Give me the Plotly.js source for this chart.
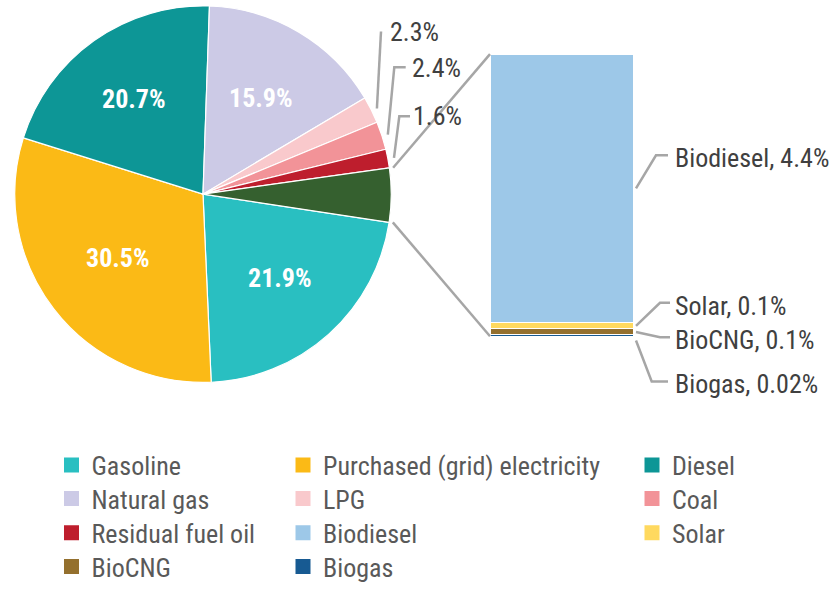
<!DOCTYPE html>
<html><head><meta charset="utf-8">
<script src="https://cdn.plot.ly/plotly-3.0.1.min.js"></script>
<style>html,body{margin:0;padding:0;background:#fff}</style>
</head><body><div id="chart" style="width:831px;height:590px"></div>
<script>
// ---- data ----
// Pie categories, clockwise starting at Gasoline
const pieLabels = ['Gasoline', 'Purchased (grid) electricity', 'Diesel', 'Natural gas', 'LPG', 'Coal', 'Residual fuel oil'];
const pieValues = [21.9, 30.5, 20.7, 15.9, 2.3, 2.4, 1.6];
const pieColors = ['#29BFC1', '#FBBA16', '#0D9696', '#CCCAE6', '#F9C9CC', '#F29398', '#BE1E2D'];
// Breakout bar (renewables slice)
const barLabels = ['Biodiesel', 'Solar', 'BioCNG', 'Biogas'];
const barValues = [4.4, 0.1, 0.1, 0.02];
const barColors = ['#9DC8E8', '#FFD95F', '#94702E', '#175A92'];
const otherLabel = 'Renewables';
const otherColor = '#35602F';
// Legend order (row-major, 3 columns)
const legendLabels = ['Gasoline', 'Purchased (grid) electricity', 'Diesel', 'Natural gas', 'LPG', 'Coal',
  'Residual fuel oil', 'Biodiesel', 'Solar', 'BioCNG', 'Biogas'];

// ---- layout geometry (pixels) ----
const W = 831, H = 590;
const X = p => p / W;
const Y = p => 1 - p / H;
const PIE = {cx: 203, cy: 197.5, r: 191.5, rotation: 98.6};
const BAR = {x0: 490, x1: 633, top: 55, bottom: 342};
const FONT = 'Roboto Condensed, Liberation Sans Narrow, Roboto, sans-serif';
const FS = 26;
const LINE = '#A6A6A6';
const TXT_DY = 3;                            // text baseline correction (px)
const LEG_COLS = [51.5, 283, 632];          // legend left edges (px)
const LEG_ROWS = [470.5, 504.8, 539.5, 574]; // legend row centres (px)
// radial position (fraction of radius) of the inside percentage labels
const INSIDE_R = {'Gasoline': 0.60, 'Purchased (grid) electricity': 0.557, 'Diesel': 0.62, 'Natural gas': 0.595};

const otherValue = barValues.reduce((a, b) => a + b, 0);
const pieAllLabels = pieLabels.concat([otherLabel]);
const pieAllValues = pieValues.concat([otherValue]);
const pieAllColors = pieColors.concat([otherColor]);
const pieTotal = pieAllValues.reduce((a, b) => a + b, 0);
const cumStart = [];
pieAllValues.reduce((c, v) => { cumStart.push(c); return c + v; }, 0);
const angleAt = cum => (PIE.rotation + cum / pieTotal * 360) * Math.PI / 180;
const polar = (a, rr) => [PIE.cx + rr * Math.sin(a), PIE.cy - rr * Math.cos(a)];
const yPix = v => BAR.bottom - v / otherValue * (BAR.bottom - BAR.top);

const colorOf = {};
pieLabels.forEach((l, i) => colorOf[l] = pieColors[i]);
barLabels.forEach((l, i) => colorOf[l] = barColors[i]);

// ---- traces ----
const traces = [];
traces.push({
  type: 'pie', labels: pieAllLabels, values: pieAllValues, sort: false, direction: 'clockwise',
  rotation: PIE.rotation,
  domain: {x: [X(PIE.cx - PIE.r), X(PIE.cx + PIE.r)], y: [Y(PIE.cy + PIE.r), Y(PIE.cy - PIE.r)]},
  marker: {colors: pieAllColors, line: {color: '#FFFFFF', width: 1.2}},
  textinfo: 'none',
  showlegend: false, hoverinfo: 'label+value'
});
// stacked bar, bottom first
for (let i = barLabels.length - 1; i >= 0; i--) {
  traces.push({
    type: 'bar', x: [0.5], y: [barValues[i]], width: [1], name: barLabels[i],
    marker: {color: barColors[i], line: {color: '#FFFFFF', width: 1}},
    showlegend: false, hoverinfo: 'name+y'
  });
}
// legend entries: one small legend per entry, placed on a 3-column grid
const legendLayouts = {};
legendLabels.forEach((l, i) => {
  const key = i === 0 ? 'legend' : 'legend' + (i + 1);
  traces.push({
    type: 'bar', x: [null], y: [null], name: l,
    marker: {color: colorOf[l], line: {color: colorOf[l], width: 3}},
    legend: key, showlegend: true, hoverinfo: 'skip'
  });
  legendLayouts[key] = {
    orientation: 'v', xanchor: 'left', yanchor: 'top',
    x: X(LEG_COLS[i % 3]), y: Y(LEG_ROWS[Math.floor(i / 3)] - (FS * 1.3 + 3) / 2 - 3),
    bgcolor: 'rgba(0,0,0,0)', borderwidth: 0, tracegroupgap: 0,
    font: {family: FONT, size: FS, color: '#595959'}, itemclick: false, itemdoubleclick: false
  };
});

// ---- leader lines & labels ----
const shapes = [];
const annotations = [];
const pathOf = pts => pts.map((p, i) => (i ? 'L' : 'M') + X(p[0]) + ',' + Y(p[1])).join(' ');
const lineStyle = {color: LINE, width: 2.5};

// inside percentage labels for the large slices
pieLabels.forEach((l, i) => {
  if (!(l in INSIDE_R)) return;
  const mid = angleAt(cumStart[i] + pieValues[i] / 2);
  const p = polar(mid, PIE.r * INSIDE_R[l]);
  annotations.push({xref: 'paper', yref: 'paper', x: X(p[0]), y: Y(p[1]), xanchor: 'center', yanchor: 'middle',
    text: pieValues[i].toFixed(1) + '%', showarrow: false,
    font: {family: FONT, size: FS, color: '#FFFFFF', weight: 'bold'}});
});

// connector lines pie -> bar
const oi = pieAllValues.length - 1;
const pTop = polar(angleAt(cumStart[oi]), PIE.r + 0.5);
const pBot = polar(angleAt(cumStart[oi] + otherValue), PIE.r + 0.5);
shapes.push({type: 'path', xref: 'paper', yref: 'paper', path: pathOf([pTop, [BAR.x0, yPix(otherValue)]]), line: lineStyle});
shapes.push({type: 'path', xref: 'paper', yref: 'paper', path: pathOf([pBot, [BAR.x0, yPix(0)]]), line: lineStyle});

// small pie slice labels (LPG, Coal, Residual fuel oil)
const smallLayout = {
  'LPG': {elbow: [[381, 32]], text: [388, 30]},
  'Coal': {elbow: [[394.3, 68.3], [405.7, 68.3]], text: [409.5, 66]},
  'Residual fuel oil': {elbow: [[399.3, 118.3], [410, 118.3]], text: [410.5, 115]}
};
pieLabels.forEach((l, i) => {
  const lay = smallLayout[l];
  if (!lay) return;
  const mid = angleAt(cumStart[i] + pieValues[i] / 2);
  const start = polar(mid, PIE.r + 3);
  shapes.push({type: 'path', xref: 'paper', yref: 'paper', path: pathOf([start].concat(lay.elbow)), line: lineStyle});
  annotations.push({xref: 'paper', yref: 'paper', x: X(lay.text[0]), y: Y(lay.text[1] + TXT_DY), xanchor: 'left', yanchor: 'middle',
    text: pieValues[i].toFixed(1) + '%', showarrow: false, font: {family: FONT, size: FS, color: '#404040'}});
});

// bar labels
const barLayout = {
  'Biodiesel': {elbow: [[656, 158], [668, 158]], text: [673, 158]},
  'Solar': {elbow: [[660, 308], [670, 308]], text: [673, 308]},
  'BioCNG': {elbow: [[660, 343], [670, 343]], text: [673, 343]},
  'Biogas': {elbow: [[651.7, 388], [668, 388]], text: [673, 388]}
};
let cumBar = 0;
const barMid = {};
for (let i = barLabels.length - 1; i >= 0; i--) { barMid[barLabels[i]] = cumBar + barValues[i] / 2; cumBar += barValues[i]; }
barLabels.forEach((l, i) => {
  const lay = barLayout[l];
  const yStart = l === 'Biogas' ? yPix(barMid[l]) + 5 : yPix(barMid[l]);
  const start = [BAR.x1 + 3, yStart];
  shapes.push({type: 'path', xref: 'paper', yref: 'paper', path: pathOf([start].concat(lay.elbow)), line: lineStyle});
  annotations.push({xref: 'paper', yref: 'paper', x: X(lay.text[0]), y: Y(lay.text[1] + TXT_DY), xanchor: 'left', yanchor: 'middle',
    text: l + ', ' + barValues[i] + '%', showarrow: false, font: {family: FONT, size: FS, color: '#404040'}});
});

const layout = Object.assign({
  width: W, height: H, margin: {l: 0, r: 0, t: 0, b: 0},
  paper_bgcolor: '#FFFFFF', plot_bgcolor: 'rgba(0,0,0,0)',
  font: {family: FONT, color: '#404040'},
  barmode: 'stack', bargap: 0,
  xaxis: {domain: [X(BAR.x0), X(BAR.x1)], range: [0, 1], visible: false, fixedrange: true},
  yaxis: {domain: [Y(BAR.bottom), Y(BAR.top)], range: [0, otherValue], visible: false, fixedrange: true},
  showlegend: true,
  shapes: shapes, annotations: annotations
}, legendLayouts);

Plotly.newPlot('chart', traces, layout, {displayModeBar: false, staticPlot: true});
</script>
</body></html>
